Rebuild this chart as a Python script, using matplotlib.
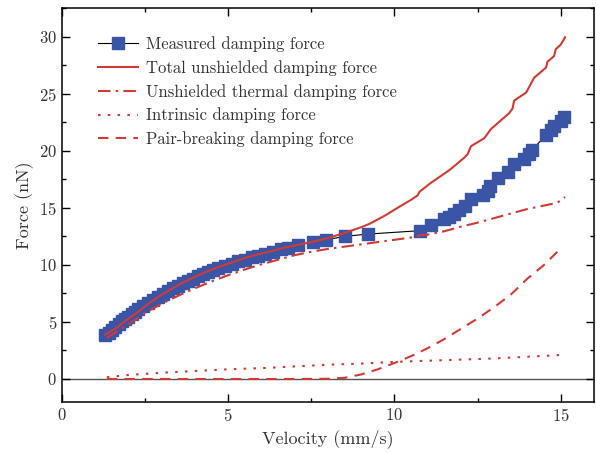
import numpy as np
import matplotlib
matplotlib.use("Agg")
import matplotlib.pyplot as plt
from matplotlib.ticker import MultipleLocator

plt.rcParams['font.family'] = 'serif'
plt.rcParams['font.serif'] = ['cmr10']
plt.rcParams['mathtext.fontset'] = 'cm'
plt.rcParams['axes.formatter.use_mathtext'] = True

# measured damping force (mm/s, nN)
meas_v = [1.30, 1.40, 1.50, 1.60, 1.70, 1.80, 1.90, 2.00, 2.10, 2.20, 2.30, 2.45, 2.60,
          2.75, 2.90, 3.05, 3.20, 3.35, 3.50, 3.65, 3.80, 3.95, 4.10, 4.25, 4.40, 4.55,
          4.70, 4.90, 5.10, 5.30, 5.50, 5.70, 5.90, 6.10, 6.35, 6.60, 6.80, 7.10, 7.55,
          7.95, 8.50, 9.20, 10.78, 11.10, 11.48, 11.65, 11.80, 11.95, 12.13, 12.30, 12.67,
          12.80, 12.88, 13.10, 13.40, 13.60, 13.90, 14.05, 14.15, 14.56, 14.70, 14.80,
          15.00, 15.10]
meas_f = [3.85, 4.05, 4.30, 4.55, 4.80, 5.05, 5.25, 5.45, 5.70, 5.90, 6.10, 6.40, 6.70,
          6.95, 7.20, 7.45, 7.70, 7.95, 8.15, 8.40, 8.60, 8.80, 9.00, 9.20, 9.35, 9.55,
          9.70, 9.90, 10.10, 10.30, 10.45, 10.65, 10.80, 10.95, 11.15, 11.35, 11.50, 11.75,
          12.00, 12.20, 12.50, 12.70, 13.00, 13.50, 14.00, 14.20, 14.50, 14.80, 15.20,
          15.80, 16.10, 16.50, 16.90, 17.60, 18.10, 18.80, 19.30, 19.70, 20.10, 21.40,
          21.80, 22.20, 22.60, 23.00]

# total unshielded damping force
tot_v = [1.30, 1.60, 2.00, 2.30, 2.60, 3.00, 3.30, 3.60, 4.00, 4.30, 4.60, 5.00, 5.30,
         5.60, 6.00, 6.30, 6.60, 7.00, 7.50, 8.00, 8.50, 9.00, 9.25, 9.70, 10.15, 10.50,
         10.70, 10.75, 11.10, 11.65, 12.10, 12.20, 12.30, 12.70, 12.90, 13.45, 13.55,
         13.60, 13.96, 14.20, 14.56, 14.60, 14.80, 14.85, 15.00, 15.13]
tot_f = [3.90, 4.40, 5.30, 5.90, 6.60, 7.40, 7.90, 8.40, 8.95, 9.35, 9.70, 10.10, 10.40,
         10.70, 11.00, 11.20, 11.45, 11.70, 12.00, 12.35, 12.80, 13.30, 13.60, 14.30,
         15.10, 15.70, 16.10, 16.40, 17.20, 18.30, 19.40, 19.70, 20.40, 21.10, 21.90,
         23.30, 23.70, 24.40, 25.10, 26.40, 27.30, 27.80, 28.30, 28.90, 29.30, 29.95]

# unshielded thermal damping force
th_v = [1.35, 2.00, 2.50, 3.00, 3.50, 4.00, 4.50, 5.00, 5.50, 6.00, 6.50, 7.00, 7.50,
        8.00, 8.50, 9.00, 9.50, 10.00, 10.50, 10.80, 11.00, 11.50, 12.00, 12.50, 13.00,
        13.50, 14.00, 14.50, 14.90, 15.13]
th_f = [3.60, 4.80, 5.80, 6.60, 7.30, 7.95, 8.55, 9.10, 9.60, 10.05, 10.45, 10.85, 11.15,
        11.40, 11.60, 11.80, 12.00, 12.20, 12.40, 12.60, 12.65, 12.95, 13.35, 13.70, 14.10,
        14.50, 14.90, 15.20, 15.45, 15.95]

# intrinsic damping force
in_v = [1.35, 2.00, 3.00, 4.00, 5.00, 6.00, 7.00, 8.00, 9.00, 10.00, 11.00, 12.00, 13.00,
        14.00, 14.95]
in_f = [0.15, 0.35, 0.55, 0.70, 0.85, 0.95, 1.10, 1.25, 1.35, 1.50, 1.60, 1.70, 1.80,
        1.95, 2.10]

# pair-breaking damping force
pb_v = [1.35, 2.00, 3.00, 4.00, 5.00, 6.00, 7.00, 8.00, 8.50, 9.00, 9.50, 10.00, 10.50,
        11.00, 11.50, 12.00, 12.50, 13.00, 13.50, 14.00, 14.50, 14.95]
pb_f = [0.00, 0.00, 0.00, 0.00, 0.00, 0.00, 0.00, 0.02, 0.10, 0.40, 0.85, 1.40, 2.00,
        2.70, 3.50, 4.40, 5.30, 6.30, 7.40, 8.80, 10.00, 11.30]

red = '#d23a35'
blue = '#3a55a5'
txt = '#333333'

fig = plt.figure(figsize=(5.96, 4.53), dpi=100)
ax = fig.add_axes([0.104, 0.113, 0.8926, 0.869])

ax.axhline(0, color='#555555', lw=1.0, zorder=1)
ax.plot(meas_v, meas_f, color='black', lw=0.8, marker='s', ms=8,
        mfc=blue, mec=blue, label='Measured damping force', zorder=3)
ax.plot(tot_v, tot_f, color=red, lw=1.5, label='Total unshielded damping force', zorder=4)
ax.plot(th_v, th_f, color=red, lw=1.5, dashes=[6, 2.5, 1.2, 2.5],
        label='Unshielded thermal damping force', zorder=4)
ax.plot(in_v, in_f, color=red, lw=1.5, dashes=[1.2, 3.5],
        label='Intrinsic damping force', zorder=4)
ax.plot(pb_v, pb_f, color=red, lw=1.5, dashes=[5, 3.5],
        label='Pair-breaking damping force', zorder=4)

ax.set_xlim(0, 16)
ax.set_ylim(-2, 32.5)
ax.xaxis.set_major_locator(MultipleLocator(5))
ax.xaxis.set_minor_locator(MultipleLocator(2.5))
ax.yaxis.set_major_locator(MultipleLocator(5))
ax.yaxis.set_minor_locator(MultipleLocator(2.5))
ax.tick_params(which='both', direction='in', top=True, right=True, width=1.0,
               labelsize=12, labelcolor=txt)
ax.tick_params(which='major', length=5.5)
ax.tick_params(which='minor', length=3)
for s in ax.spines.values():
    s.set_linewidth(1.1)

ax.set_xlabel('Velocity (mm/s)', fontsize=13, color=txt)
ax.set_ylabel('Force (nN)', fontsize=13, color=txt)

leg = ax.legend(loc='upper left', bbox_to_anchor=(0.039, 0.967), frameon=False,
                fontsize=12, handlelength=2.4, labelspacing=0.48, handletextpad=0.5)
for t in leg.get_texts():
    t.set_color(txt)

fig.savefig('out.png', dpi=100)
